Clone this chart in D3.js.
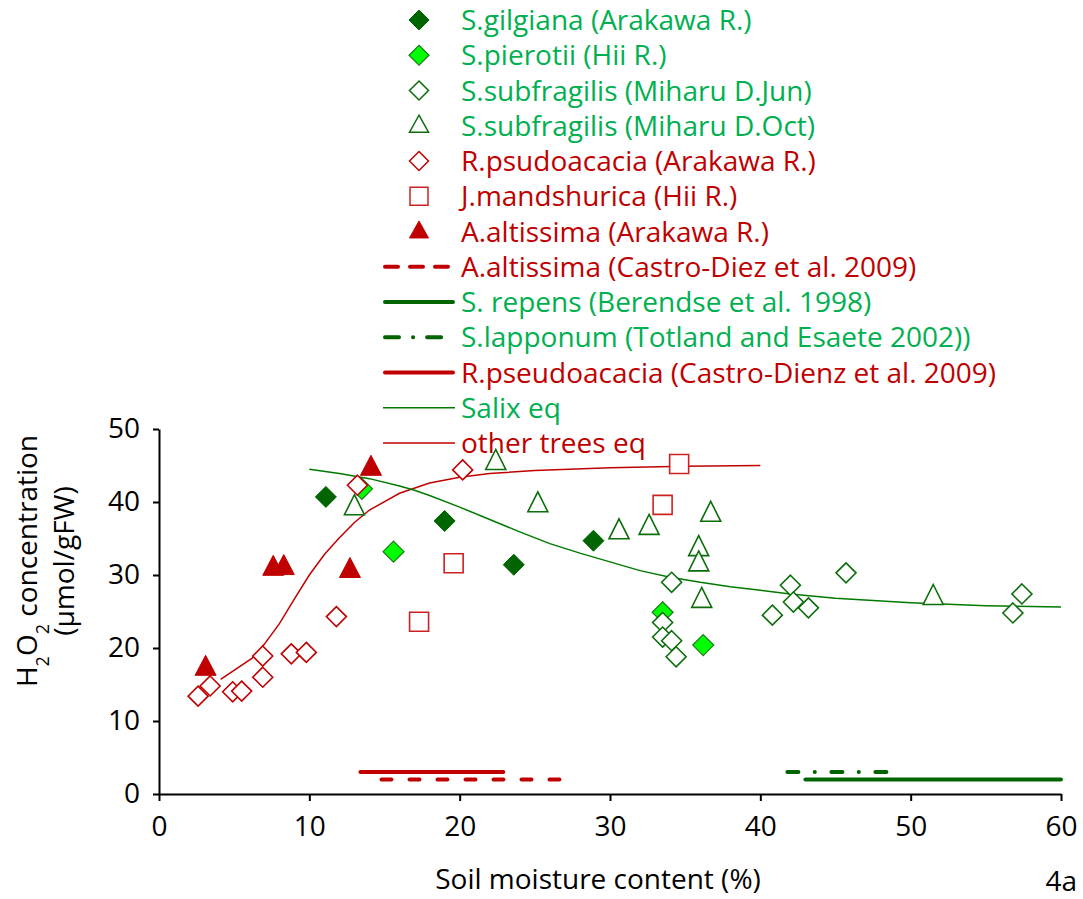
<!DOCTYPE html>
<html>
<head>
<meta charset="utf-8">
<script src="https://cdn.jsdelivr.net/npm/d3@7"></script>
<style>
  html, body { margin: 0; padding: 0; background: #fff; }
  svg { display: block; font-family: "Open Sans", Lato, sans-serif; }
</style>
</head>
<body>
<svg id="chart" width="1083" height="899"></svg>
<script>
// Soil moisture (%) vs H2O2 concentration (µmol/gFW), one [x, y] list per series
const gilgiana      = [[11.1, 40.7], [19.0, 37.4], [23.6, 31.4], [28.9, 34.7]];
const pierotii      = [[13.5, 41.8], [15.6, 33.2], [33.5, 24.9], [36.2, 20.4]];
const subfragJun    = [[34.1, 29.0], [33.5, 23.5], [33.5, 21.5], [34.1, 21.0], [34.4, 18.8],
                       [42.0, 28.6], [42.2, 26.3], [43.2, 25.5], [40.8, 24.5], [45.7, 30.3],
                       [57.4, 27.4], [56.8, 24.8]];
const subfragOct    = [[13.0, 39.3], [22.4, 45.5], [25.2, 39.7], [30.6, 36.0], [32.6, 36.6],
                       [36.7, 38.4], [35.9, 33.7], [35.9, 31.6], [36.1, 26.6], [51.5, 27.0]];
const psudoacacia   = [[2.6, 13.4], [3.4, 14.8], [4.9, 14.0], [5.5, 14.1], [6.9, 16.0],
                       [6.9, 18.9], [8.8, 19.2], [9.8, 19.4], [11.8, 24.3], [13.2, 42.3],
                       [20.2, 44.4]];
const mandshurica   = [[19.6, 31.6], [17.3, 23.6], [33.5, 39.6], [34.6, 45.2]];
const altissima     = [[3.1, 17.3], [7.6, 31.0], [8.3, 31.1], [12.7, 30.7], [14.1, 44.7]];

// Fitted response curves
const salixEq = [[10, 44.5], [12, 43.9], [14, 43.2], [16, 42.2], [17, 41.6], [18, 40.9],
                 [20, 39.3], [22, 37.6], [24, 35.9], [26, 34.3], [28, 33.0], [30, 31.8],
                 [32, 30.6], [34, 29.7], [36, 29.0], [38, 28.4], [40, 27.9], [42, 27.4],
                 [45, 26.8], [50, 26.2], [55, 25.8], [60, 25.6]];
const otherTreesEq = [[4.1, 15.7], [6.2, 18.6], [7, 20.5], [8, 23.3], [9, 26.7], [10, 30.0],
                      [11, 32.8], [12, 35.1], [13, 37.2], [14, 38.9], [16, 41.2], [18, 42.6],
                      [20, 43.4], [22, 43.9], [25, 44.3], [30, 44.7], [35, 44.9], [40, 45.0]];

// Literature moisture ranges: [xStart, xEnd, yLevel]
const altissimaCastro = [14.8, 26.9, 2];
const repensBerendse  = [43.0, 60.0, 2];
const lapponumTotland = [41.8, 48.6, 3];
const pseudoCastro    = [13.4, 22.9, 3];

const xTicks = [0, 10, 20, 30, 40, 50, 60];
const yTicks = [0, 10, 20, 30, 40, 50];

const legendLabels = [
  "S.gilgiana (Arakawa R.)",
  "S.pierotii (Hii R.)",
  "S.subfragilis (Miharu D.Jun)",
  "S.subfragilis (Miharu D.Oct)",
  "R.psudoacacia (Arakawa R.)",
  "J.mandshurica (Hii R.)",
  "A.altissima (Arakawa R.)",
  "A.altissima (Castro-Diez et al. 2009)",
  "S. repens (Berendse et al. 1998)",
  "S.lapponum (Totland and Esaete 2002))",
  "R.pseudoacacia (Castro-Dienz et al. 2009)",
  "Salix eq",
  "other trees eq"
];

const GREEN_TXT = "#00B050", RED = "#C00000", DKGREEN = "#006400", LIME = "#00FF00", OGREEN = "#0B6E0B";
const FONT = "28px";

const svg = d3.select("#chart");
const x = d3.scaleLinear().domain([0, 60]).range([159, 1061]);
const y = d3.scaleLinear().domain([0, 50]).range([794, 429]);

// marker path builders
function diamond(r) { return `M0,${-r}L${r},0L0,${r}L${-r},0Z`; }
function triangle(w, h) { return `M0,${-h * 0.62}L${w / 2},${h * 0.38}L${-w / 2},${h * 0.38}Z`; }
function square(s) { const h = s / 2; return `M${-h},${-h}H${h}V${h}H${-h}Z`; }

const styles = {
  gilgiana:    { d: diamond(10.5), fill: DKGREEN, stroke: DKGREEN, sw: 1 },
  pierotii:    { d: diamond(10.5), fill: LIME, stroke: "#1d7a1d", sw: 1.2 },
  subfragJun:  { d: diamond(10), fill: "#fff", stroke: OGREEN, sw: 1.6 },
  subfragOct:  { d: triangle(20, 20), fill: "#fff", stroke: OGREEN, sw: 1.6 },
  psudoacacia: { d: diamond(10), fill: "#fff", stroke: RED, sw: 1.6 },
  mandshurica: { d: square(19), fill: "#fff", stroke: "#CC2222", sw: 1.6 },
  altissima:   { d: triangle(21, 20), fill: RED, stroke: RED, sw: 1 }
};
const legendStyles = {
  gilgiana:    { d: diamond(10), fill: DKGREEN, stroke: DKGREEN, sw: 1 },
  pierotii:    { d: diamond(10), fill: LIME, stroke: "#1d7a1d", sw: 1.2 },
  subfragJun:  { d: diamond(9.5), fill: "#fff", stroke: OGREEN, sw: 1.5 },
  subfragOct:  { d: triangle(19, 17), fill: "#fff", stroke: OGREEN, sw: 1.5 },
  psudoacacia: { d: diamond(9.5), fill: "#fff", stroke: RED, sw: 1.5 },
  mandshurica: { d: square(18), fill: "#fff", stroke: "#CC2222", sw: 1.5 },
  altissima:   { d: triangle(19, 17), fill: RED, stroke: RED, sw: 1 }
};

// axes
const yAxis = svg.append("g").attr("transform", `translate(${x(0)},0)`)
  .call(d3.axisLeft(y).tickValues(yTicks).tickSize(6).tickSizeOuter(0).tickPadding(13));
const xAxis = svg.append("g").attr("transform", `translate(0,${y(0)})`)
  .call(d3.axisBottom(x).tickValues(xTicks).tickSize(7).tickSizeOuter(0).tickPadding(15));
[yAxis, xAxis].forEach(g => {
  g.select(".domain").attr("stroke", "#000").attr("stroke-width", 2);
  g.selectAll(".tick line").attr("stroke", "#000").attr("stroke-width", 2);
  g.selectAll(".tick text").attr("fill", "#000").style("font-size", FONT)
    .style("font-family", "'Open Sans', sans-serif");
});

// axis titles
svg.append("text").attr("x", 598).attr("y", 889).attr("text-anchor", "middle")
  .style("font-size", FONT).text("Soil moisture content (%)");
svg.append("text").attr("x", 1077).attr("y", 891).attr("text-anchor", "end")
  .style("font-size", FONT).text("4a");

const yTitle = svg.append("g").attr("transform", "translate(0,561) rotate(-90)");
const t1 = yTitle.append("text").attr("x", 0).attr("y", 37).attr("text-anchor", "middle").style("font-size", FONT);
t1.append("tspan").text("H");
t1.append("tspan").attr("baseline-shift", "sub").style("font-size", "18px").text("2");
t1.append("tspan").text("O");
t1.append("tspan").attr("baseline-shift", "sub").style("font-size", "18px").text("2");
t1.append("tspan").text(" concentration");
yTitle.append("text").attr("x", 0).attr("y", 74).attr("text-anchor", "middle")
  .style("font-size", FONT).text("(µmol/gFW)");

// fitted curves
const line = d3.line().x(d => x(d[0])).y(d => y(d[1]));
svg.append("path").datum(otherTreesEq).attr("d", line).attr("fill", "none")
  .attr("stroke", RED).attr("stroke-width", 1.5);
svg.append("path").datum(salixEq).attr("d", line).attr("fill", "none")
  .attr("stroke", "#007A00").attr("stroke-width", 1.5);

// literature range bars
function rangeBar(r, color, dash) {
  svg.append("line").attr("x1", x(r[0])).attr("x2", x(r[1]))
    .attr("y1", y(r[2])).attr("y2", y(r[2]))
    .attr("stroke", color).attr("stroke-width", 4).attr("stroke-linecap", "round")
    .attr("stroke-dasharray", dash || null);
}
rangeBar(pseudoCastro, RED);
rangeBar(altissimaCastro, RED, "10,18");
rangeBar(repensBerendse, DKGREEN);
rangeBar(lapponumTotland, DKGREEN, "11,16.3,0.1,16.6");

// scatter series, drawn in legend order
const series = [
  ["gilgiana", gilgiana], ["pierotii", pierotii], ["subfragJun", subfragJun],
  ["subfragOct", subfragOct], ["psudoacacia", psudoacacia], ["mandshurica", mandshurica],
  ["altissima", altissima]
];
series.forEach(([key, data]) => {
  const s = styles[key];
  svg.append("g").selectAll("path").data(data).join("path")
    .attr("transform", d => `translate(${x(d[0])},${y(d[1])})`)
    .attr("d", s.d).attr("fill", s.fill).attr("stroke", s.stroke).attr("stroke-width", s.sw);
});

// legend
const legendTextColors = [GREEN_TXT, GREEN_TXT, GREEN_TXT, GREEN_TXT, RED, RED, RED,
                          RED, GREEN_TXT, GREEN_TXT, RED, GREEN_TXT, RED];
const lg = svg.append("g");
legendLabels.forEach((label, i) => {
  const cy = 20 + i * 35.25;
  if (i < 7) {
    const s = legendStyles[series[i][0]];
    lg.append("path").attr("transform", `translate(419,${cy})`)
      .attr("d", s.d).attr("fill", s.fill).attr("stroke", s.stroke).attr("stroke-width", s.sw);
  } else {
    const spec = [
      { c: RED, w: 4, dash: "13,12" },
      { c: DKGREEN, w: 4, dash: null },
      { c: DKGREEN, w: 4, dash: "14,14,0.1,14" },
      { c: RED, w: 4, dash: null },
      { c: "#007A00", w: 1.5, dash: null },
      { c: RED, w: 1.5, dash: null }
    ][i - 7];
    lg.append("line").attr("x1", spec.w > 2 ? 385 : 383).attr("x2", spec.w > 2 ? 453 : 455)
      .attr("y1", cy).attr("y2", cy).attr("stroke", spec.c).attr("stroke-width", spec.w)
      .attr("stroke-linecap", spec.w > 2 ? "round" : "butt")
      .attr("stroke-dasharray", spec.dash);
  }
  lg.append("text").attr("x", 461).attr("y", cy).attr("dy", "0.36em")
    .attr("fill", legendTextColors[i]).style("font-size", FONT).text(label);
});
</script>
</body>
</html>
